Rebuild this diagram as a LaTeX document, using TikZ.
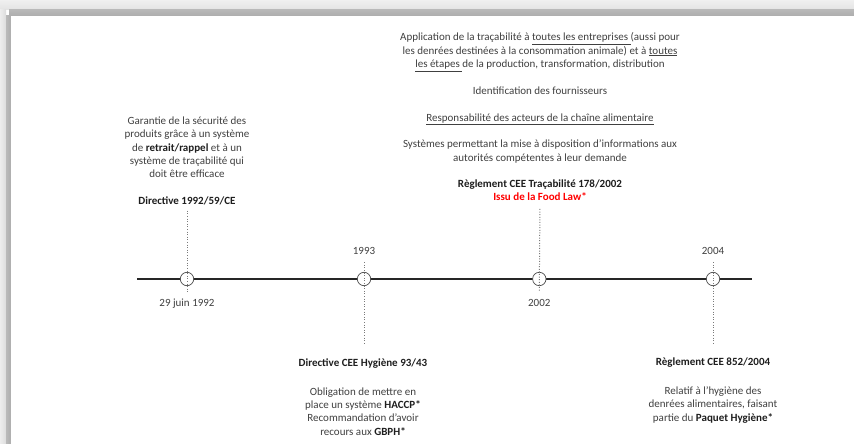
\documentclass[tikz,border=0pt]{standalone}
\usepackage{fontspec}
\setmainfont{Carlito}
\definecolor{bodygray}{HTML}{404040}
\definecolor{titlegray}{HTML}{1E1E1E}
\definecolor{lawred}{HTML}{FF0000}
\definecolor{dotgray}{HTML}{7A7A7A}
\definecolor{axisgray}{HTML}{262626}
\begin{document}
\begin{tikzpicture}[x=1pt,y=-1pt,
  txt/.style={font=\fontsize{11}{13.4}\selectfont, text=bodygray, align=center, inner sep=0pt},
  ttl/.style={txt, font=\fontsize{11}{13.4}\selectfont\bfseries, text=titlegray},
  timeline/.style={line width=2.6pt, draw=axisgray},
  milestone/.style={circle, draw=black!70, line width=0.7pt, fill=white, minimum size=13.4pt, inner sep=0pt},
  dotline/.style={draw=dotgray, line width=1pt, dash pattern=on 1pt off 1.6pt}
]
\useasboundingbox (0,0) rectangle (854,444);

% page shadow along the top and left edges
\fill[white] (0,0) rectangle (854,444);
\shade[top color=gray!12, bottom color=gray!22] (0,0) rectangle (854,10);
\shade[top color=gray!56, bottom color=gray!64] (9,10) rectangle (854,16);
\shade[left color=gray!14, right color=gray!27] (0,10) rectangle (6,444);
\shade[left color=gray!54, right color=gray!64] (6,16) rectangle (11,444);
\fill[white] (11,16) rectangle (854,444);

% axis and milestones
\coordinate (tlstart) at (137,279);
\coordinate (tlend) at (752,279);
\draw[timeline] (tlstart) -- (tlend);
\node[milestone] (c92) at (187,279) {};
\node[milestone] (c93) at (364,279) {};
\node[milestone] (c02) at (539.3,279) {};
\node[milestone] (c04) at (713,279) {};

% 1992
\node[txt, anchor=north] (gar92) at (187,116.5)
  {Garantie de la sécurité des\\produits grâce à un système\\de \textbf{\color{titlegray}retrait/rappel} et à un\\système de traçabilité qui\\doit être efficace};
\node[ttl, anchor=base] (dir92) at (187,204.5) {Directive 1992/59/CE};
\node[txt, anchor=base] (d92) at (187,306) {29 juin 1992};
\coordinate (t92) at (187,292);
\draw[dotline, shorten <=5.5pt] (dir92.south) -- (t92);

% 1993
\node[txt, anchor=base] (y93) at (364,254) {1993};
\coordinate (b93) at (364,343);
\draw[dotline, shorten <=8pt] (y93.south) -- (b93);
\node[ttl, anchor=base] (h93) at (363,366.5) {Directive CEE Hygiène 93/43};
\node[txt, anchor=north] (obl93) at (363,387.2)
  {Obligation de mettre en\\place un système \textbf{\color{titlegray}HACCP*}\\Recommandation d’avoir\\recours aux \textbf{\color{titlegray}GBPH*}};

% 2002
\node[txt, anchor=north] (app02) at (540,32.5)
  {Application de la traçabilité à \underline{toutes les entreprises\ }(aussi pour\\
   les denrées destinées à la consommation animale) et à \underline{toutes}\\
   \underline{les étapes\ }de la production, transformation, distribution\\[13.4pt]
   Identification des fournisseurs\\[13.4pt]
   \underline{Responsabilité des acteurs de la chaîne alimentaire}\\[13.4pt]
   Systèmes permettant la mise à disposition d’informations aux\\
   autorités compétentes à leur demande};
\node[ttl, anchor=base] (reg02) at (540,187.3) {Règlement CEE Traçabilité 178/2002};
\node[ttl, anchor=base, text=lawred] (law02) at (540,200.7) {Issu de la Food Law*};
\node[txt, anchor=base] (y02) at (539.3,306) {2002};
\coordinate (t02) at (539.3,291);
\draw[dotline, shorten <=8pt] (law02.south) -- (t02);

% 2004
\node[txt, anchor=base] (y04) at (713,254.5) {2004};
\coordinate (b04) at (713,343);
\draw[dotline, shorten <=7.5pt] (y04.south) -- (b04);
\node[ttl, anchor=base] (r04) at (713,365.8) {Règlement CEE 852/2004};
\node[txt, anchor=north] (rel04) at (713,386.5)
  {Relatif à l’hygiène des\\denrées alimentaires, faisant\\partie du \textbf{\color{titlegray}Paquet Hygiène*}};
\end{tikzpicture}
\end{document}
